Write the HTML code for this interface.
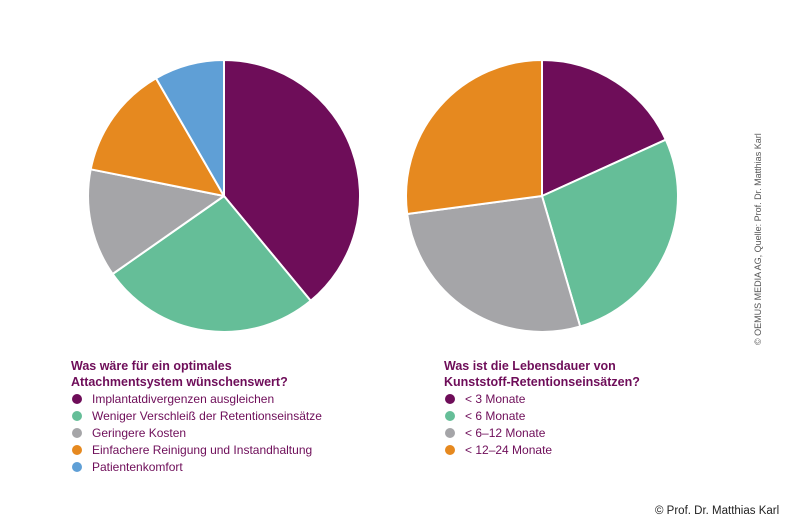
<!DOCTYPE html>
<html><head><meta charset="utf-8"><style>
body{margin:0;background:#fff;}
svg text{font-family:"Liberation Sans",sans-serif;}
</style></head><body>
<svg width="790" height="523" viewBox="0 0 790 523" xmlns="http://www.w3.org/2000/svg">
<g stroke="#fff" stroke-width="2" stroke-linejoin="round">
<path d="M224,196 L224,60 A136,136 0 0 1 310.7,300.8 Z" fill="#6e0d59"/>
<path d="M224,196 L310.7,300.8 A136,136 0 0 1 112.6,274 Z" fill="#65be98"/>
<path d="M224,196 L112.6,274 A136,136 0 0 1 90.7,169.3 Z" fill="#a5a5a8"/>
<path d="M224,196 L90.7,169.3 A136,136 0 0 1 156,78.2 Z" fill="#e6891f"/>
<path d="M224,196 L156,78.2 A136,136 0 0 1 224,60 Z" fill="#5f9fd6"/>
<path d="M542,196 L542,60 A136,136 0 0 1 665.8,139.7 Z" fill="#6e0d59"/>
<path d="M542,196 L665.8,139.7 A136,136 0 0 1 580.2,326.5 Z" fill="#65be98"/>
<path d="M542,196 L580.2,326.5 A136,136 0 0 1 407.2,214 Z" fill="#a5a5a8"/>
<path d="M542,196 L407.2,214 A136,136 0 0 1 542,60 Z" fill="#e6891f"/>
</g>
<g font-size="12.5" font-weight="bold" fill="#6e0d59">
<text x="71" y="370">Was wäre für ein optimales</text>
<text x="71" y="386">Attachmentsystem wünschenswert?</text>
<text x="444" y="370">Was ist die Lebensdauer von</text>
<text x="444" y="386">Kunststoff-Retentionseinsätzen?</text>
</g>
<g font-size="12" fill="#6e0d59">
<circle cx="77" cy="399" r="5" fill="#6e0d59"/><text x="92" y="403">Implantatdivergenzen ausgleichen</text>
<circle cx="77" cy="416" r="5" fill="#65be98"/><text x="92" y="420">Weniger Verschleiß der Retentionseinsätze</text>
<circle cx="77" cy="433" r="5" fill="#a5a5a8"/><text x="92" y="437">Geringere Kosten</text>
<circle cx="77" cy="450" r="5" fill="#e6891f"/><text x="92" y="454">Einfachere Reinigung und Instandhaltung</text>
<circle cx="77" cy="467" r="5" fill="#5f9fd6"/><text x="92" y="471">Patientenkomfort</text>
<circle cx="450" cy="399" r="5" fill="#6e0d59"/><text x="465" y="403">&lt; 3 Monate</text>
<circle cx="450" cy="416" r="5" fill="#65be98"/><text x="465" y="420">&lt; 6 Monate</text>
<circle cx="450" cy="433" r="5" fill="#a5a5a8"/><text x="465" y="437">&lt; 6–12 Monate</text>
<circle cx="450" cy="450" r="5" fill="#e6891f"/><text x="465" y="454">&lt; 12–24 Monate</text>
</g>
<text transform="translate(761,345) rotate(-90)" font-size="9" fill="#555">© OEMUS MEDIA AG, Quelle: Prof. Dr. Matthias Karl</text>
<text x="655" y="514" font-size="11.5" fill="#222">© Prof. Dr. Matthias Karl</text>
</svg>
</body></html>
